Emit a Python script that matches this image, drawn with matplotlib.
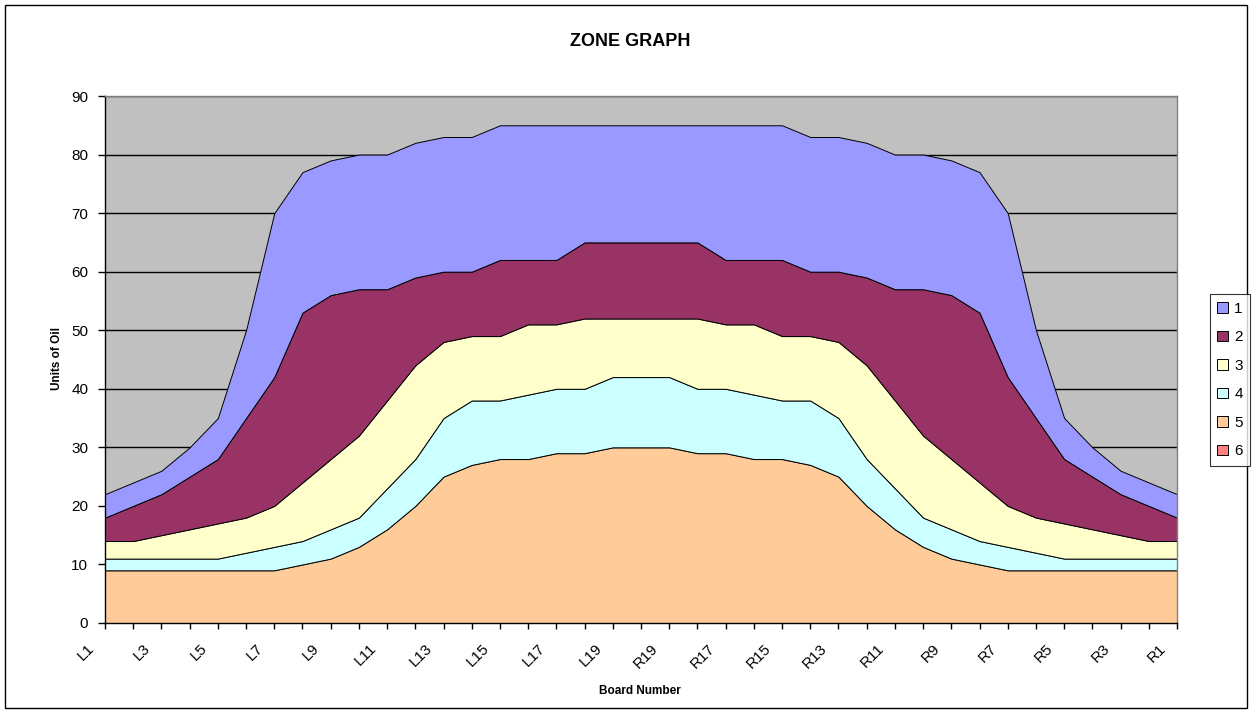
import numpy as np
import matplotlib.pyplot as plt
import matplotlib.transforms as mtransforms
from matplotlib.patches import Rectangle

plt.rcParams['font.family'] = ['Liberation Sans', 'DejaVu Sans']

# --- data ---
boards = [f'L{i}' for i in range(1, 21)] + [f'R{i}' for i in range(19, 0, -1)]

zone1 = [4, 4, 4, 5, 7, 15, 28, 24, 23, 23, 23, 23, 23, 23, 23, 23, 23, 20, 20, 20,
         20, 20, 23, 23, 23, 23, 23, 23, 23, 23, 23, 24, 28, 15, 7, 5, 4, 4, 4]
zone2 = [4, 6, 7, 9, 11, 17, 22, 29, 28, 25, 19, 15, 12, 11, 13, 11, 11, 13, 13, 13,
         13, 13, 11, 11, 13, 11, 12, 15, 19, 25, 28, 29, 22, 17, 11, 9, 7, 6, 4]
zone3 = [3, 3, 4, 5, 6, 6, 7, 10, 12, 14, 15, 16, 13, 11, 11, 12, 11, 12, 10, 10,
         10, 12, 11, 12, 11, 11, 13, 16, 15, 14, 12, 10, 7, 6, 6, 5, 4, 3, 3]
zone4 = [2, 2, 2, 2, 2, 3, 4, 4, 5, 5, 7, 8, 10, 11, 10, 11, 11, 11, 12, 12,
         12, 11, 11, 11, 10, 11, 10, 8, 7, 5, 5, 4, 4, 3, 2, 2, 2, 2, 2]
zone5 = [9, 9, 9, 9, 9, 9, 9, 10, 11, 13, 16, 20, 25, 27, 28, 28, 29, 29, 30, 30,
         30, 29, 29, 28, 28, 27, 25, 20, 16, 13, 11, 10, 9, 9, 9, 9, 9, 9, 9]
zone6 = [0] * len(boards)

zone_names = ['1', '2', '3', '4', '5', '6']
zone_colors = ['#9999FF', '#993366', '#FFFFCC', '#CCFFFF', '#FFCC99', '#FF8080']

x = np.arange(len(boards))

fig = plt.figure(figsize=(12.52, 7.13), dpi=100)
ax = fig.add_axes([105 / 1252, 1 - 623 / 713, 1072 / 1252, 527 / 713])
ax.set_facecolor('#C0C0C0')

# stacked from the bottom: 6, 5, 4, 3, 2, 1
stack = [zone6, zone5, zone4, zone3, zone2, zone1]
polys = ax.stackplot(x, *stack, colors=zone_colors[::-1],
                     edgecolor='black', linewidth=0.7, zorder=2)

ax.set_xlim(0, len(boards) - 1)
ax.set_ylim(0, 90)
ax.set_yticks(range(0, 91, 10))
ax.yaxis.grid(True, color='black', linewidth=1.0, zorder=1)
ax.set_axisbelow(True)

ax.set_xticks(x)
ax.set_xticklabels([b if i % 2 == 0 else '' for i, b in enumerate(boards)],
                   rotation=45, ha='right', va='top')
ax.tick_params(axis='x', direction='out', length=4, width=1, pad=9, labelsize=11)
ax.tick_params(axis='y', direction='out', length=5, width=1, pad=7, labelsize=11)

shift = mtransforms.ScaledTranslation(-6 / 72, 0, fig.dpi_scale_trans)
for lab in ax.get_xticklabels():
    lab.set_transform(lab.get_transform() + shift)

for s in ['top', 'right']:
    ax.spines[s].set_color('#808080')
    ax.spines[s].set_linewidth(1.0)
for s in ['left', 'bottom']:
    ax.spines[s].set_color('black')
    ax.spines[s].set_linewidth(1.0)

fig.text(630 / 1252, 1 - 42 / 713, 'ZONE GRAPH', ha='center', va='center',
         fontsize=13, fontweight='bold')
fig.text(640 / 1252, 1 - 691 / 713, 'Board Number', ha='center', va='center',
         fontsize=8.5, fontweight='bold')
fig.text(57 / 1252, 1 - 358 / 713, 'Units of Oil', ha='center', va='center',
         rotation=90, fontsize=8.5, fontweight='bold')

# legend, series 1 first
handles = polys[::-1]
leg = fig.legend(handles, zone_names, loc='center', bbox_to_anchor=(1230 / 1252, 1 - 380 / 713),
                 fontsize=11, frameon=True, fancybox=False, edgecolor='black',
                 handlelength=0.7, handleheight=0.7, handletextpad=0.4,
                 labelspacing=0.95, borderpad=0.5, borderaxespad=0)
leg.get_frame().set_linewidth(0.8)

# chart area border
fig.patches.append(Rectangle((5 / 1252, 5 / 713), 1242 / 1252, 703 / 713,
                             transform=fig.transFigure, fill=False,
                             edgecolor='black', linewidth=1.0))

fig.savefig('out.png', dpi=100)
